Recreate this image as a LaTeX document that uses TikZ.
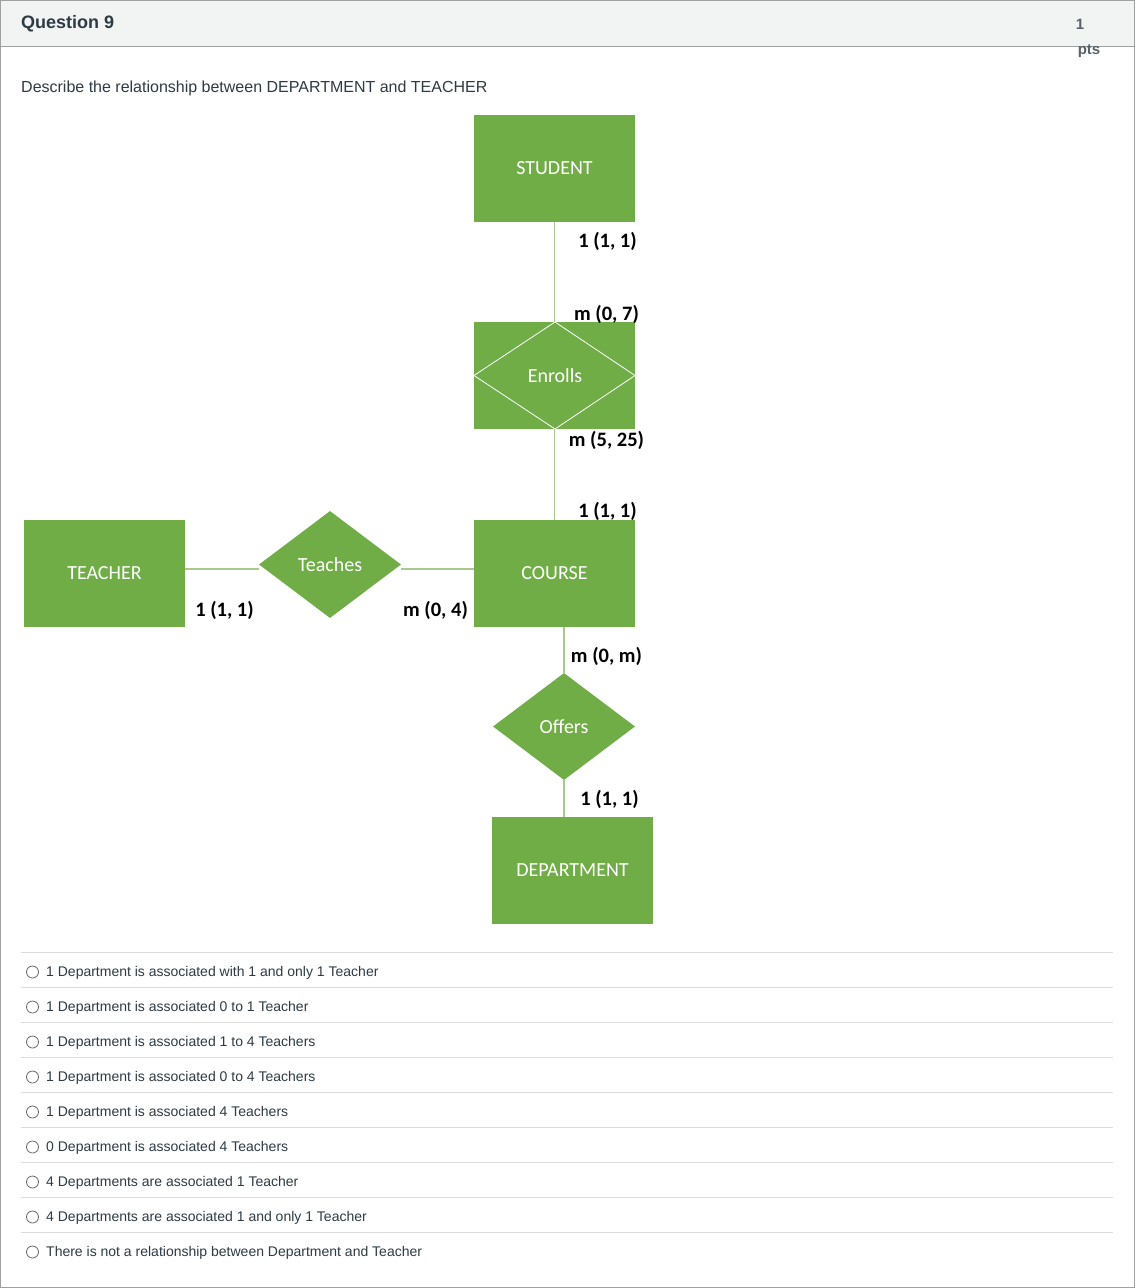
\documentclass[tikz,border=0pt]{standalone}
\usepackage{fontspec}
\setmainfont{Liberation Sans}
\newfontfamily\calib{Carlito}
\usetikzlibrary{shapes.geometric}
\definecolor{ergreen}{HTML}{70AD47}
\definecolor{erline}{HTML}{A9C98F}
\definecolor{txtgray}{HTML}{2D3B45}
\definecolor{sepgray}{HTML}{DDDDDD}
\definecolor{hdrgray}{HTML}{F2F3F3}
\definecolor{bordergray}{HTML}{A0A0A0}
\tikzset{
  x=1pt,y=-1pt,
  entity/.style={draw=none,fill=ergreen,minimum width=161pt,minimum height=107pt,inner sep=0pt,
    text=white,font=\calib\fontsize{20}{24}\selectfont},
  relship/.style={diamond,draw=none,fill=ergreen,minimum width=142pt,minimum height=107pt,inner sep=0pt,
    aspect=1.33,text=white,font=\calib\fontsize{20}{24}\selectfont},
  card/.style={inner sep=0pt,font=\calib\bfseries\fontsize{20.5}{24}\selectfont,text=black},
  conn/.style={draw=erline,line width=1.2pt},
  opt/.style={anchor=west,inner sep=0pt,text=txtgray,font=\fontsize{14}{17}\selectfont},
  radio/.style={circle,draw=gray!80!black,line width=0.8pt,minimum size=12pt,inner sep=0pt},
  sepline/.style={draw=sepgray,line width=1pt}
}
\begin{document}
\begin{tikzpicture}
\useasboundingbox (0,0) rectangle (1135,1288);
% page frame and header
\fill[white] (0,0) rectangle (1135,1288);
\fill[hdrgray] (0,0) rectangle (1135,46);
\draw[bordergray,line width=1pt] (0,46) -- (1135,46);
\draw[bordergray,line width=1.2pt] (0.6,0.6) rectangle (1134.4,1287.4);
\node[anchor=west,inner sep=0pt,text=txtgray,font=\bfseries\fontsize{18}{22}\selectfont] (qtitle) at (21,23.5) {Question 9};
\node[inner sep=0pt,text=txtgray!80,font=\bfseries\fontsize{15}{18}\selectfont] (pts1) at (1080,24) {1};
\node[inner sep=0pt,text=txtgray!80,font=\bfseries\fontsize{15}{18}\selectfont] (pts2) at (1089,51) {pts};
\node[anchor=west,inner sep=0pt,text=txtgray,font=\fontsize{16}{19}\selectfont] (prompt) at (21,88.5) {Describe the relationship between DEPARTMENT and TEACHER};

% entities
\node[entity] (student) at (554.5,168.5) {STUDENT};
\node[entity] (enrollsbox) at (554.5,375.5) {};
\node[entity] (course) at (554.5,573.5) {COURSE};
\node[entity] (teacher) at (104.5,573.5) {TEACHER};
\node[entity] (department) at (572.5,870.5) {DEPARTMENT};
% Enrolls diamond inside box
\draw[white,line width=0.8pt] (555,322) -- (635,375.5) -- (555,429) -- (474,375.5) -- cycle;
\node[inner sep=0pt,text=white,font=\calib\fontsize{20}{24}\selectfont] (enrolls) at (555,376) {Enrolls};
% relationships
\node[relship] (teaches) at (330,564.5) {Teaches};
\node[relship] (offers) at (564,726.5) {Offers};

% connectors
\draw[conn] (student.south) -- (enrollsbox.north);
\draw[conn] (enrollsbox.south) -- (course.north);
\draw[conn] (teacher.east |- 0,569) -- (teaches.west |- 0,569);
\draw[conn] (teaches.east |- 0,569) -- (course.west |- 0,569);
\draw[conn] (offers.north |- course.south) -- (offers.north);
\draw[conn] (offers.south) -- (offers.south |- department.north);

% cardinalities
\node[card] (c1) at (607.5,241.5) {1 (1, 1)};
\node[card] (c2) at (606.5,314.5) {m (0, 7)};
\node[card] (c3) at (606.5,440.5) {m (5, 25)};
\node[card] (c4) at (607.5,511.5) {1 (1, 1)};
\node[card] (c5) at (224.5,610.5) {1 (1, 1)};
\node[card] (c6) at (435.5,610.5) {m (0, 4)};
\node[card] (c7) at (606.5,656.5) {m (0, m)};
\node[card] (c8) at (609.5,799.5) {1 (1, 1)};

% options
\foreach \yy in {952,987,1022,1057,1092,1127,1162,1197,1232} {
  \draw[sepline] (21,\yy) -- (1113,\yy);
}
\foreach \yy/\txt [count=\i] in {
  971/{1 Department is associated with 1 and only 1 Teacher},
  1006/{1 Department is associated 0 to 1 Teacher},
  1041/{1 Department is associated 1 to 4 Teachers},
  1076/{1 Department is associated 0 to 4 Teachers},
  1111/{1 Department is associated 4 Teachers},
  1146/{0 Department is associated 4 Teachers},
  1181/{4 Departments are associated 1 Teacher},
  1216/{4 Departments are associated 1 and only 1 Teacher},
  1251/{There is not a relationship between Department and Teacher}} {
  \node[radio] (r\i) at (32.5,\yy+1) {};
  \node[opt] (o\i) at (46,\yy+1.5) {\txt};
}
\end{tikzpicture}
\end{document}
